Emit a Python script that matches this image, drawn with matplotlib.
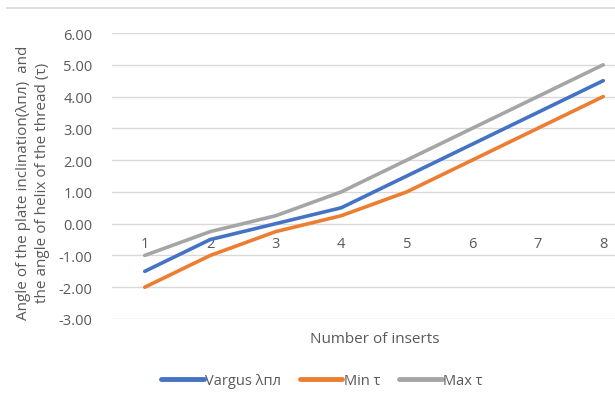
import matplotlib
matplotlib.use("Agg")
import matplotlib.pyplot as plt
from matplotlib.lines import Line2D

plt.rcParams['font.family'] = ['Open Sans', 'DejaVu Sans']

inserts = [1, 2, 3, 4, 5, 6, 7, 8]
vargus = [-1.5, -0.5, 0.0, 0.5, 1.5, 2.5, 3.5, 4.5]
min_tau = [-2.0, -1.0, -0.25, 0.25, 1.0, 2.0, 3.0, 4.0]
max_tau = [-1.0, -0.25, 0.25, 1.0, 2.0, 3.0, 4.0, 5.0]
yticks = [-3, -2, -1, 0, 1, 2, 3, 4, 5, 6]
series_names = ["Vargus λпл", "Min τ", "Max τ"]
colors = ["#4472C4", "#ED7D31", "#A5A5A5"]

txt = "#595959"
W, H = 615, 406
fig = plt.figure(figsize=(W / 100, H / 100), dpi=100)
left, right = 112, 636
top, bottom = 34, 320
ax = fig.add_axes([left / W, (H - bottom) / H, (right - left) / W, (bottom - top) / H])

for vals, name, c in zip([vargus, min_tau, max_tau], series_names, colors):
    ax.plot(inserts, vals, color=c, lw=2.6, label=name, solid_capstyle='round')

ax.set_xlim(0.5, 8.5)
ax.set_ylim(-3, 6)
ax.set_yticks(yticks)
ax.set_yticklabels([f"{v:.2f}" for v in yticks])
ax.set_xticks(inserts)
ax.set_xticklabels([str(i) for i in inserts])
ax.grid(axis='y', color='#D9D9D9', lw=1)
ax.set_axisbelow(True)
for s in ['top', 'right', 'left']:
    ax.spines[s].set_visible(False)
ax.spines['bottom'].set_position(('data', 0))
ax.spines['bottom'].set_visible(False)
ax.tick_params(axis='x', length=0, pad=9, labelsize=10.5, labelcolor=txt)
ax.tick_params(axis='y', length=0, pad=14, labelsize=10.5, labelcolor=txt)

fig.text(375 / W, 1 - 340 / H, "Number of inserts", ha='center', va='center',
         fontsize=11, color=txt)
fig.text(33 / W, 1 - 183 / H,
         "Angle of the plate inclination(λпл)  and\nthe angle of helix of the thread (τ)",
         rotation=90, ha='center', va='center', fontsize=11, color=txt,
         linespacing=1.3, multialignment='center')

leg = fig.legend(loc='center', bbox_to_anchor=(322 / W, 1 - 382 / H), ncol=3,
                 frameon=False, fontsize=10.5, handlelength=2.9, handletextpad=0.1,
                 columnspacing=1.3)
for t in leg.get_texts():
    t.set_color(txt)
for h in leg.get_lines():
    h.set_linewidth(3.5)

fig.add_artist(Line2D([7 / W, 1], [1 - 8.5 / H, 1 - 8.5 / H], transform=fig.transFigure,
                      color='#D9D9D9', lw=1.2))

fig.savefig("out.png", dpi=100)
